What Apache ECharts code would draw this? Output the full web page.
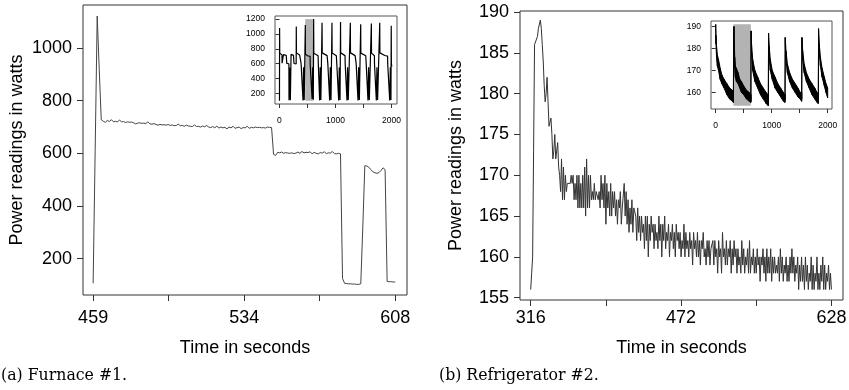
<!DOCTYPE html>
<html>
<head>
<meta charset="utf-8">
<script src="https://cdn.jsdelivr.net/npm/echarts@6/dist/echarts.min.js"></script>
<style>
html,body{margin:0;padding:0;background:#fff;}
#c{width:849px;height:390px;}
</style>
</head>
<body>
<div id="c"></div>
<script>
// ---------------- DATA ----------------
// (a) Furnace #1 : one reading per second, starting at t = 459 s
const furnaceStart = 459;
const furnaceWatts = [
  106,610,1122,920,728,722,718,725,721,728,
  720,722,719,727,720,721,717,720,718,719,
  716,712,715,716,714,715,713,720,712,711,
  713,710,707,710,708,709,707,710,706,708,
  705,706,711,705,706,703,707,704,703,702,
  708,702,703,700,704,701,706,700,698,702,
  697,704,696,700,697,699,693,700,697,703,
  695,698,700,694,698,697,703,695,699,697,
  700,698,699,697,698,696,700,699,698,596,
  592,604,602,605,600,603,601,600,602,599,
  601,605,600,607,602,604,603,606,598,604,
  600,598,603,601,606,599,602,601,607,599,
  598,600,598,125,106,105,104,104,103,103,
  102,102,104,320,553,552,547,538,530,526,
  524,527,535,545,538,113,112,112,111,111
];
// (b) Refrigerator #2 : one reading per second, starting at t = 316 s
const fridgeStart = 316;
const fridgeWatts = [
  156,158,160,173,186,186,186,187,188,188,
  189,188,186,184,181,179,180,182,179,176,
  176,177,175,172,173,175,172,172,174,171,
  170,168,172,167,171,167,170,168,169,169,
  169,169,170,169,170,167,169,167,
  170,166,170,166,169,166,170,166,171,165,
  172,166,170,166,170,167,168,167,169,167,
  168,168,167,168,166,170,167,169,166,170,
  164,169,166,168,165,
  169,165,168,166,168,165,167,164,167,166,
  168,164,166,166,169,165,168,164,167,163,
  166,164,167,163,166,166,165,162,166,163,
  165,162,165,163,164,161,165,162,165,160,
  164,162,165,163,164,161,164,162,163,161,
  165,162,164,160,164,162,165,161,163,162,
  164,160,163,162,164,161,163,160,164,162,
  163,161,163,160,162,161,164,160,163,161,
  162,160,163,161,162,159,163,161,162,160,
  163,160,162,159,162,161,163,160,161,159,
  162,160,162,159,161,161,162,159,162,160,
  161,158,162,160,161,158,163,160,161,159,
  162,159,161,160,162,158,161,159,162,160,
  161,158,161,159,160,158,162,159,161,158,
  160,159,161,158,162,158,160,159,161,158,
  160,158,161,159,160,157,160,159,161,158,
  160,157,161,158,160,158,161,157,160,158,
  160,158,159,158,160,157,161,158,160,157,
  159,158,160,157,159,157,160,158,161,158,
  160,157,159,158,160,156,159,157,160,157,
  159,156,160,157,159,156,158,157,160,156,
  159,156,158,157,160,156,158,156,159,157,
  160,156,159,156,158,157,159,156,158,156
];
// Inset of furnace: whole trace [time s, watts]
const furnaceInset = [
  [0,100],[2,1080],[5,740],[20,725],[45,718],[46,605],[70,600],[71,722],[120,712],[130,708],[131,603],[168,598],
  [170,105],[178,104],[180,548],[192,540],[194,108],[205,106],[207,725],[250,712],[258,708],[259,602],[298,598],
  [300,1100],[303,745],[320,728],[360,715],[385,705],[386,600],[418,598],[420,104],[428,103],[430,550],[440,535],[442,110],[457,110],
  [459,106],[461,1122],[463,728],[500,706],[547,698],[548,596],[581,598],[582,125],[591,104],[593,552],[599,524],[602,545],[604,113],[608,110],
  [610,1200],[613,740],[640,722],[690,705],[693,600],[715,598],[717,105],[725,104],[727,550],[737,530],[739,110],[757,110],
  [760,1150],[763,745],[790,725],[850,708],[862,705],[863,600],[894,598],[896,104],[905,103],[907,550],[918,530],[920,110],[934,110],
  [937,1150],[940,742],[965,724],[1015,706],[1022,703],[1023,600],[1055,598],[1057,104],[1066,103],[1068,548],[1079,530],[1081,110],[1087,110],
  [1090,1160],[1093,745],[1120,726],[1170,708],[1172,702],[1173,600],[1203,598],[1205,104],[1214,103],[1216,550],[1226,532],[1228,110],[1262,110],
  [1265,1150],[1268,745],[1295,726],[1350,708],[1368,703],[1369,600],[1400,598],[1402,104],[1411,103],[1413,550],[1424,530],[1426,110],[1447,110],
  [1450,1130],[1453,742],[1480,725],[1540,707],[1547,702],[1548,600],[1578,598],[1580,104],[1589,103],[1591,550],[1602,530],[1604,110],[1637,110],
  [1640,1140],[1643,742],[1670,724],[1695,706],[1696,600],[1727,598],[1729,104],[1738,103],[1740,550],[1750,530],[1752,110],[1787,110],
  [1790,1150],[1793,745],[1820,727],[1880,710],[1930,702],[1932,600],[1966,598],[1968,104],[1977,103],[1979,550],[1988,530],[1990,110],[1993,110],
  [1995,1110],[1998,600],[2005,560]
];
// Inset of refrigerator: whole trace as a band (time, highest and lowest reading)
const fridgeInsetT  = [0,5,15,30,50,80,110,150,200,250,300,314,
  316,320,326,332,340,350,370,400,430,460,500,550,600,627,
  628,632,640,660,700,750,800,850,900,938,
  940,944,955,975,1010,1060,1110,1160,1210,1236,
  1238,1242,1255,1280,1320,1370,1420,1470,1510,1534,
  1536,1540,1553,1580,1620,1670,1720,1770,1810,1831,
  1833,1837,1850,1870,1900,1940,1970,2000];
const fridgeInsetHi = [191,186,181,177,175,171,168,166,164,162,161,160,
  157,187,190,183,176,172,171,169,166,165,163,161,160,159,
  157,188,182,175,170,167,164,162,160,159,
  157,187,181,175,170,167,164,162,160,159,
  158,185,179,173,169,166,164,162,160,160,
  158,185,179,173,169,166,164,162,160,159,
  158,189,182,176,171,167,164,162];
const fridgeInsetLo = [189,182,176,172,170,166,164,162,159,157,156,155.5,
  156,185,187,179,171,167,165,164,162,160,159,157,156,155.5,
  156,185,178,170,165,162,159,157,155,154,
  156,184,177,170,166,162,160,158,156,155.5,
  157,182,175,169,165,162,160,158,157,156,
  157,182,175,169,165,162,159,157,155.5,155,
  157,186,178,172,167,163,160,157.5];
// highlighted windows in the insets
const furnaceWindow = [459, 608];
const fridgeWindow = [316, 628];

// ticks and labels
const furnaceXTicks  = [459, 496.25, 533.5, 570.75, 608];
const furnaceXLabels = ['459', '', '534', '', '608'];
const furnaceYTicks  = [200, 400, 600, 800, 1000];
const fridgeXTicks   = [316, 394, 472, 550, 628];
const fridgeXLabels  = ['316', '', '472', '', '628'];
const fridgeYTicks   = [155, 160, 165, 170, 175, 180, 185, 190];
const insetXTicks    = [0, 500, 1000, 1500, 2000];
const insetXLabels   = ['0', '', '1000', '', '2000'];
const furnaceInsetYTicks = [200, 400, 600, 800, 1000, 1200];
const fridgeInsetYTicks  = [160, 170, 180, 190];

const xTitle = 'Time in seconds';
const yTitle = 'Power readings in watts';
const captionA = '(a) Furnace #1.';
const captionB = '(b) Refrigerator #2.';

// ---------------- CHART ----------------
const SANS = '"Liberation Sans", Arial, Helvetica, sans-serif';
const SERIF = '"DejaVu Serif Condensed", "Liberation Serif", serif';
const AX = '#333';

function axis(gridIndex, min, max, ticks, labels, o) {
  const labelVals = ticks.filter((t, i) => labels[i] !== '');
  const a = {
    type: 'value', gridIndex, min, max,
    axisLine: { show: false },
    splitLine: { show: false },
    axisTick: { show: true, inside: false, length: o.tickLen, customValues: ticks,
      lineStyle: { color: AX, width: 1 } },
    axisLabel: { show: true, customValues: labelVals, fontSize: o.fontSize, color: '#000',
      margin: o.margin, fontFamily: SANS,
      formatter: v => { const k = ticks.indexOf(v); return k >= 0 ? labels[k] : ''; } }
  };
  if (o.name) {
    a.name = o.name; a.nameLocation = 'middle'; a.nameGap = o.nameGap;
    if (o.nameRotate != null) a.nameRotate = o.nameRotate;
    a.nameTextStyle = { fontSize: 18, color: '#000', fontFamily: SANS };
  }
  return a;
}

const grids = [
  { left: 83, top: 5, width: 324, height: 290 },
  { left: 520, top: 11, width: 323, height: 289 },
  { left: 275, top: 16, width: 122, height: 88, backgroundColor: '#fff' },
  { left: 711, top: 21, width: 121, height: 88, backgroundColor: '#fff' }
].map((g, i) => Object.assign({ show: true, borderColor: i < 2 ? '#333' : '#555', borderWidth: 1,
  containLabel: false, outerBoundsMode: 'none', z: i < 2 ? 0 : 3 }, g));

const xAxes = [
  axis(0, 454, 613.8, furnaceXTicks, furnaceXLabels, { tickLen: 6, fontSize: 18, margin: 14, name: xTitle, nameGap: 44 }),
  axis(1, 304.9, 640, fridgeXTicks, fridgeXLabels, { tickLen: 6, fontSize: 18, margin: 9, name: xTitle, nameGap: 39 }),
  axis(2, -80, 2098, insetXTicks, insetXLabels, { tickLen: 4, fontSize: 8.5, margin: 12 }),
  axis(3, -84, 2077, insetXTicks, insetXLabels, { tickLen: 4, fontSize: 8.5, margin: 12 })
];
const yAxes = [
  axis(0, 61.5, 1164, furnaceYTicks, furnaceYTicks.map(String), { tickLen: 6, fontSize: 18, margin: 11, name: yTitle, nameGap: 57, nameRotate: 90 }),
  axis(1, 154.72, 190.12, fridgeYTicks, fridgeYTicks.map(String), { tickLen: 6, fontSize: 18, margin: 11, name: yTitle, nameGap: 55, nameRotate: 90 }),
  axis(2, 56, 1242, furnaceInsetYTicks, furnaceInsetYTicks.map(String), { tickLen: 4, fontSize: 8.5, margin: 10 }),
  axis(3, 152.5, 192.5, fridgeInsetYTicks, fridgeInsetYTicks.map(String), { tickLen: 4, fontSize: 8.5, margin: 10 })
];
xAxes.forEach((a, i) => { if (i >= 2) a.z = 4; });
yAxes.forEach((a, i) => { if (i >= 2) a.z = 4; });

function windowRect(axisIdx, win, lo, hi) {
  return {
    type: 'custom', xAxisIndex: axisIdx, yAxisIndex: axisIdx, z: 4, silent: true,
    encode: { x: [0, 1], y: [2, 3] },
    data: [[win[0], win[1], lo, hi]],
    renderItem: (p, api) => {
      const a = api.coord([api.value(0), api.value(3)]);
      const b = api.coord([api.value(1), api.value(2)]);
      return { type: 'rect', shape: { x: a[0], y: a[1], width: b[0] - a[0], height: b[1] - a[1] },
        style: { fill: '#b3b3b3' } };
    }
  };
}

const furnaceInsetVals = furnaceInset.map(d => d[1]);
const fridgeBandData = fridgeInsetT.map((t, i) => [t, fridgeInsetLo[i], fridgeInsetHi[i]]);

const option = {
  animation: false,
  backgroundColor: '#fff',
  textStyle: { fontFamily: SANS },
  grid: grids,
  xAxis: xAxes,
  yAxis: yAxes,
  series: [
    { type: 'line', xAxisIndex: 0, yAxisIndex: 0, symbol: 'none', silent: true,
      data: furnaceWatts.map((v, i) => [furnaceStart + i, v]),
      lineStyle: { color: '#444', width: 1 } },
    { type: 'line', xAxisIndex: 1, yAxisIndex: 1, symbol: 'none', silent: true,
      data: fridgeWatts.map((v, i) => [fridgeStart + i, v]),
      lineStyle: { color: '#333', width: 1 } },
    windowRect(2, furnaceWindow, Math.min(...furnaceInsetVals), Math.max(...furnaceInsetVals)),
    { type: 'line', xAxisIndex: 2, yAxisIndex: 2, symbol: 'none', silent: true, z: 5,
      data: furnaceInset, lineStyle: { color: '#000', width: 1.2 } },
    windowRect(3, fridgeWindow, Math.min(...fridgeInsetLo), Math.max(...fridgeInsetHi)),
    { type: 'custom', xAxisIndex: 3, yAxisIndex: 3, z: 5, silent: true,
      encode: { x: 0, y: [1, 2] },
      data: fridgeBandData,
      renderItem: (p, api) => {
        const i = p.dataIndex;
        if (i >= fridgeBandData.length - 1) return null;
        const n = fridgeBandData[i + 1];
        const pts = [
          api.coord([api.value(0), api.value(1)]),
          api.coord([api.value(0), api.value(2)]),
          api.coord([n[0], n[2]]),
          api.coord([n[0], n[1]])
        ];
        return { type: 'polygon', shape: { points: pts },
          style: { fill: '#000', stroke: '#000', lineWidth: 1 } };
      } }
  ],
  graphic: [
    { type: 'text', x: 1, y: 375, style: { text: captionA, font: '17.5px ' + SERIF, fill: '#000', verticalAlign: 'middle', align: 'left' } },
    { type: 'text', x: 439, y: 375, style: { text: captionB, font: '17.5px ' + SERIF, fill: '#000', verticalAlign: 'middle', align: 'left' } }
  ]
};

const chart = echarts.init(document.getElementById('c'), null, { renderer: 'canvas' });
chart.setOption(option);
</script>
</body>
</html>
